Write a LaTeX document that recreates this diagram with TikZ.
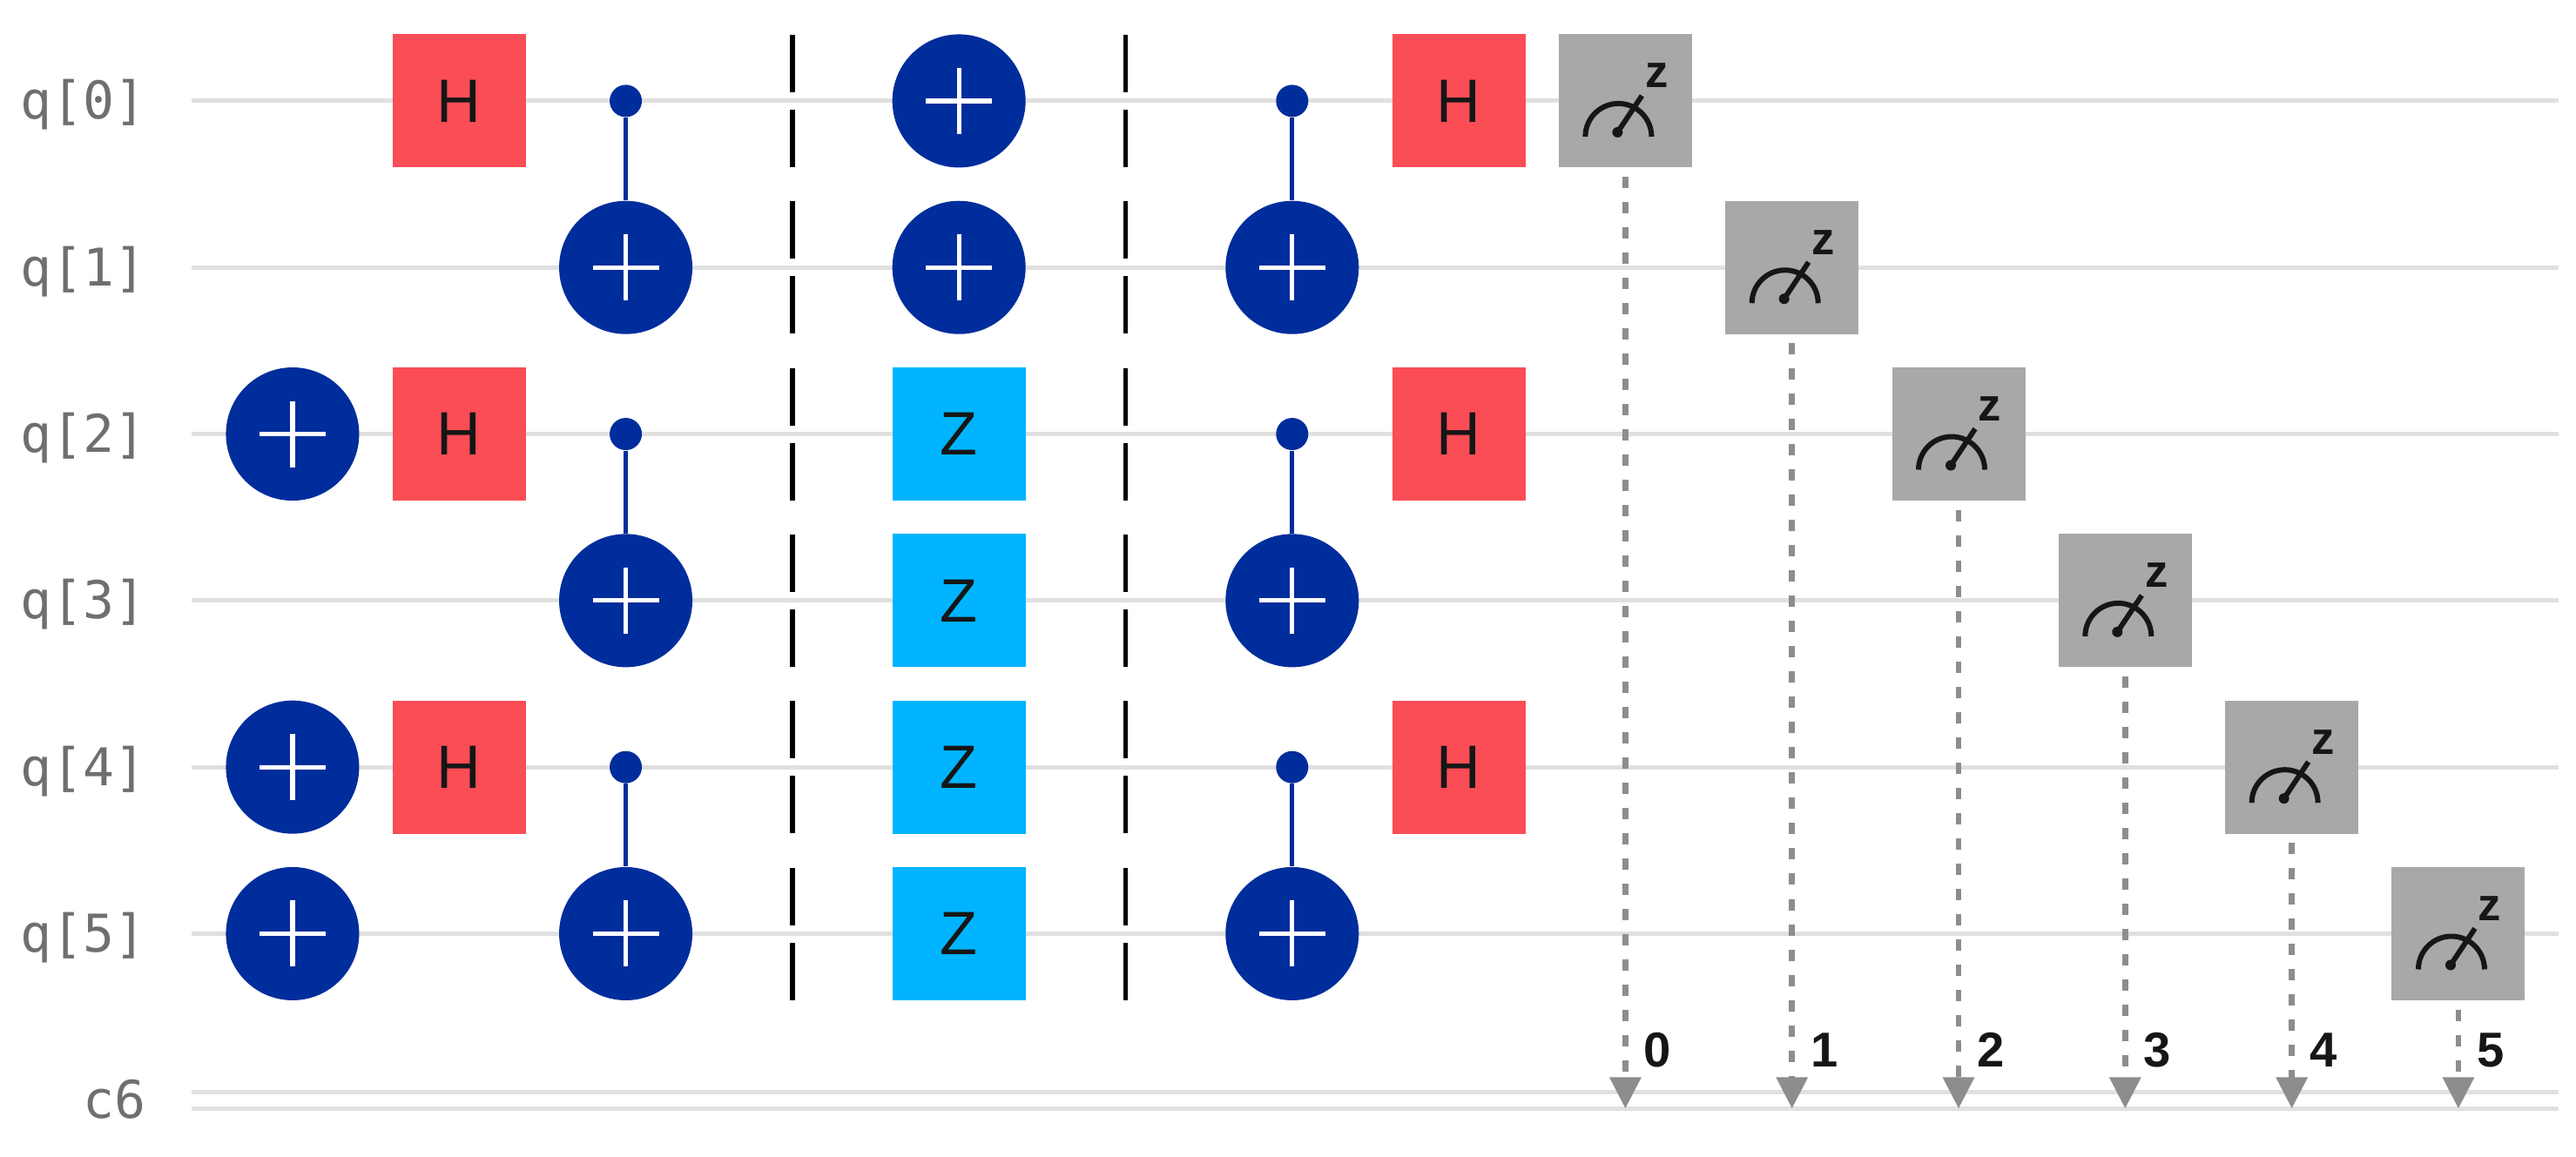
\documentclass[tikz,border=0pt]{standalone}
\usepackage{fontspec}
\setmainfont{Liberation Sans}
\setmonofont{DejaVu Sans Mono}
\usepackage{xcolor}
\definecolor{gate-red}{HTML}{FA4D56}
\definecolor{gate-blue}{HTML}{002D9C}
\definecolor{gate-cyan}{HTML}{00B4FF}
\definecolor{gate-gray}{HTML}{A8A8A8}
\definecolor{wire-gray}{HTML}{E0E0E0}
\definecolor{label-gray}{HTML}{6F6F6F}
\definecolor{cbit-gray}{HTML}{8D8D8D}
\definecolor{ink}{HTML}{161616}
\usetikzlibrary{arrows.meta}

\tikzset{
    hgate/.style={fill=gate-red, minimum size=1.53cm, inner sep=0pt, text=ink, font=\fontsize{20}{20}\selectfont},
    zgate/.style={hgate, fill=gate-cyan},
    xgate/.style={circle, fill=gate-blue, minimum size=1.53cm, inner sep=0pt,
        path picture={
            \draw[white, line width=1.5pt]
                ([xshift=-0.38cm]path picture bounding box.center) -- ([xshift=0.38cm]path picture bounding box.center)
                ([yshift=-0.38cm]path picture bounding box.center) -- ([yshift=0.38cm]path picture bounding box.center);
        }},
    ctrl/.style={circle, fill=gate-blue, minimum size=0.37cm, inner sep=0pt},
    ctrlline/.style={gate-blue, line width=1.5pt},
    meas/.style={fill=gate-gray, minimum size=1.53cm, inner sep=0pt,
        path picture={
            \draw[ink, line width=1.7pt] ([shift={(-0.46cm,-0.41cm)}]path picture bounding box.center) arc[start angle=180, end angle=0, radius=0.38cm];
            \draw[ink, line width=1.7pt] ([shift={(-0.09cm,-0.36cm)}]path picture bounding box.center) -- ([shift={(0.19cm,0.06cm)}]path picture bounding box.center);
            \fill[ink] ([shift={(-0.09cm,-0.36cm)}]path picture bounding box.center) circle (0.06cm);
        },
        label={[text=ink, font=\bfseries\fontsize{15}{15}\selectfont, xshift=0.36cm, yshift=0.29cm]center:z}},
    wire/.style={wire-gray, line width=1.4pt},
    barrier/.style={black, line width=1.5pt, dash pattern=on 0.66cm off 0.2cm on 0.66cm off 0.393cm},
    cline/.style={cbit-gray, line width=1.9pt, dash pattern=on 0.13cm off 0.16cm, -{Triangle[length=0.36cm, width=0.35cm]}},
    qlabel/.style={anchor=base east, inner sep=0pt, text=label-gray, font=\ttfamily\fontsize{17}{17}\selectfont},
    clabel/.style={inner sep=0pt, text=ink, font=\bfseries\fontsize{16}{16}\selectfont}
}

\begin{document}
\begin{tikzpicture}[x=1.913cm, y=1.913cm]

    \useasboundingbox (-1.756, 0.606) rectangle (13.706, -6.336);

    % Wires
    \foreach \q in {0,...,5} {
        \node[qlabel] (lq\q) at (-0.878, -\q-0.11) {q[\q]};
        \coordinate (ws\q) at (-0.606, -\q);
        \coordinate (we\q) at (13.602, -\q);
        \draw[wire] (ws\q) -- (we\q);
    }
    \node[qlabel] (lc) at (-0.878, -6.11) {c6};
    \coordinate (cs) at (-0.606, -6);
    \coordinate (ce) at (13.602, -6);
    \draw[wire] ([yshift=0.095cm]cs) -- ([yshift=0.095cm]ce) ([yshift=-0.095cm]cs) -- ([yshift=-0.095cm]ce);

    % Encoding
    \foreach \q in {2,4,5} \node[xgate] (xa\q) at (0, -\q) {};
    \foreach \q in {0,2,4} \node[hgate] (ha\q) at (1, -\q) {H};
    \foreach \c/\t in {0/1,2/3,4/5} {
        \node[ctrl] (ca\c) at (2, -\c) {};
        \node[xgate] (ta\t) at (2, -\t) {};
        \draw[ctrlline] (ca\c) -- (ta\t);
    }

    % Barriers
    \coordinate (bat) at (3, 0.397);
    \coordinate (bab) at (3, -5.405);
    \draw[barrier] (bat) -- (bab);
    \coordinate (bbt) at (5, 0.397);
    \coordinate (bbb) at (5, -5.405);
    \draw[barrier] (bbt) -- (bbb);

    % Errors
    \foreach \q in {0,1} \node[xgate] (xb\q) at (4, -\q) {};
    \foreach \q in {2,...,5} \node[zgate] (zb\q) at (4, -\q) {Z};

    % Decoding
    \foreach \c/\t in {0/1,2/3,4/5} {
        \node[ctrl] (cb\c) at (6, -\c) {};
        \node[xgate] (tb\t) at (6, -\t) {};
        \draw[ctrlline] (cb\c) -- (tb\t);
    }
    \foreach \q in {0,2,4} \node[hgate] (hb\q) at (7, -\q) {H};

    % Measurements
    \foreach \q in {0,...,5} {
        \node[meas] (m\q) at (8+\q, -\q) {};
        \coordinate (bit\q) at (8+\q, -6.05);
        \draw[cline] ([yshift=-0.1cm]m\q.south) -- (bit\q);
        \node[clabel] (nb\q) at (8.193+\q, -5.698) {\q};
    }

\end{tikzpicture}
\end{document}
